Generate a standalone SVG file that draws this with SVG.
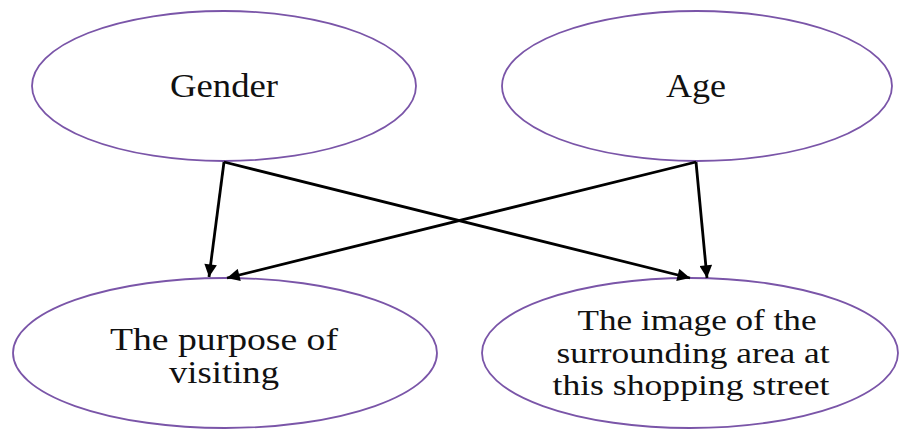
<svg xmlns="http://www.w3.org/2000/svg" width="899" height="430" viewBox="0 0 899 430">
<defs>
<style>
.node ellipse { fill: #ffffff; stroke: #7a55a8; stroke-width: 1.8; }
.node text { fill: #111111; text-anchor: middle; }
.conn line { stroke: #000000; stroke-width: 2.8; marker-end: url(#arrow); }
</style>
<marker id="arrow" viewBox="0 0 10 10" refX="10" refY="5" markerWidth="5" markerHeight="4.5" markerUnits="strokeWidth" orient="auto">
<path d="M0,0 L10,5 L0,10 Z" fill="#000000"/>
</marker>
</defs>
<rect width="899" height="430" fill="#ffffff"/>
<g id="gender" class="node" font-family="Liberation Serif, Times New Roman, serif">
<ellipse cx="224" cy="86" rx="192" ry="75"/>
<text x="224" y="97" font-size="33" textLength="108" lengthAdjust="spacingAndGlyphs">Gender</text>
</g>
<g id="age" class="node" font-family="Liberation Serif, Times New Roman, serif">
<ellipse cx="697" cy="86" rx="195" ry="75"/>
<text x="696" y="97" font-size="33" textLength="60" lengthAdjust="spacingAndGlyphs">Age</text>
</g>
<g id="purpose" class="node" font-family="Liberation Serif, Times New Roman, serif">
<ellipse cx="225" cy="353" rx="212" ry="75"/>
<text x="224" y="350" font-size="31" textLength="228" lengthAdjust="spacingAndGlyphs">The purpose of</text>
<text x="224" y="383" font-size="31" textLength="110" lengthAdjust="spacingAndGlyphs">visiting</text>
</g>
<g id="image" class="node" font-family="Liberation Serif, Times New Roman, serif">
<ellipse cx="690" cy="353" rx="208" ry="75"/>
<text x="697" y="330" font-size="30" textLength="239" lengthAdjust="spacingAndGlyphs">The image of the</text>
<text x="693" y="363" font-size="30" textLength="273" lengthAdjust="spacingAndGlyphs">surrounding area at</text>
<text x="691" y="395" font-size="30" textLength="277" lengthAdjust="spacingAndGlyphs">this shopping street</text>
</g>
<g id="connectors" class="conn">
<line x1="224" y1="162" x2="209" y2="277"/>
<line x1="224" y1="162" x2="690" y2="278"/>
<line x1="696" y1="162" x2="227" y2="278"/>
<line x1="696" y1="162" x2="707" y2="278"/>
</g>
</svg>
